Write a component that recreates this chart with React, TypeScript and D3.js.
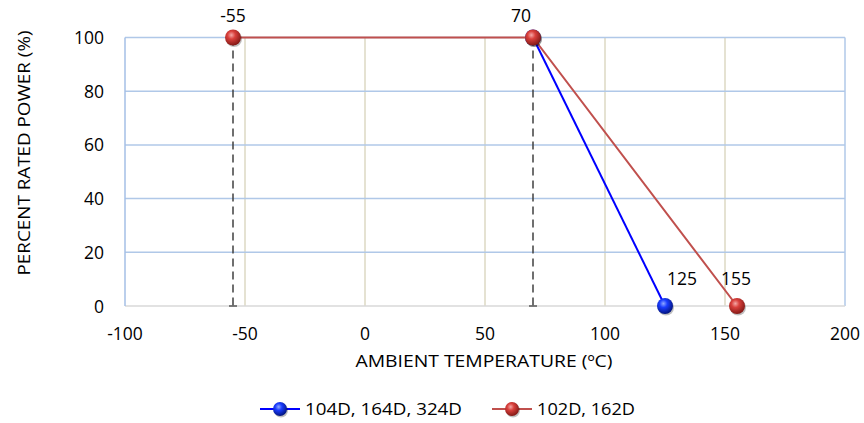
import React from 'react';
import * as d3 from 'd3';

const xTicks = [-100, -50, 0, 50, 100, 150, 200];
const yTicks = [0, 20, 40, 60, 80, 100];

const seriesA = { name: '104D, 164D, 324D', temps: [70, 125], power: [100, 0] };
const seriesB = { name: '102D, 162D', temps: [-55, 70, 155], power: [100, 100, 0] };
const dashedTemps = [-55, 70];
const pointLabels = [
  { t: -55, p: 100, text: '-55', dx: 0, dy: -16 },
  { t: 70, p: 100, text: '70', dx: -12, dy: -16 },
  { t: 125, p: 0, text: '125', dx: 17, dy: -21 },
  { t: 155, p: 0, text: '155', dx: -1, dy: -21 },
];

const font = "'Open Sans', sans-serif";
const fs = 17.5;

const App: React.FC = () => {
  const W = 864, H = 423;
  const x = d3.scaleLinear().domain([-100, 200]).range([125, 845]);
  const y = d3.scaleLinear().domain([0, 100]).range([306, 37.5]);
  const line = d3.line<[number, number]>().x(d => x(d[0])).y(d => y(d[1]));
  const pts = (s: { temps: number[]; power: number[] }) => s.temps.map((t, i) => [t, s.power[i]] as [number, number]);

  const Ball = ({ cx, cy, r, id }: { cx: number; cy: number; r: number; id: string }) => (
    <g>
      <circle cx={cx + 1} cy={cy + 1.5} r={r} fill="rgba(0,0,0,0.25)" />
      <circle cx={cx} cy={cy} r={r} fill={`url(#${id})`} />
    </g>
  );

  return (
    <svg width={W} height={H} style={{ position: 'absolute', left: 0, top: 0 }}>
      <defs>
        <radialGradient id="gRed" cx="0.4" cy="0.35" r="0.7">
          <stop offset="0" stopColor="#f4a8a6" />
          <stop offset="0.35" stopColor="#d9403c" />
          <stop offset="1" stopColor="#7a1512" />
        </radialGradient>
        <radialGradient id="gBlue" cx="0.4" cy="0.35" r="0.7">
          <stop offset="0" stopColor="#8fa8ff" />
          <stop offset="0.35" stopColor="#1a3cff" />
          <stop offset="1" stopColor="#001070" />
        </radialGradient>
      </defs>
      <rect width={W} height={H} fill="#fff" />

      {/* grid */}
      {xTicks.filter(t => t > -100 && t < 200).map(t => (
        <line key={'vx' + t} x1={x(t)} x2={x(t)} y1={y(100)} y2={y(0)} stroke="#ddd9c3" strokeWidth={1.5} />
      ))}
      {yTicks.filter(t => t > 0).map(t => (
        <line key={'hy' + t} x1={x(-100)} x2={x(200)} y1={y(t)} y2={y(t)} stroke="#b0c8e8" strokeWidth={1.5} />
      ))}
      <line x1={x(200)} x2={x(200)} y1={y(100)} y2={y(0)} stroke="#b0c8e8" strokeWidth={1.5} />
      <line x1={x(-100)} x2={x(200)} y1={y(0)} y2={y(0)} stroke="#d9d9d9" strokeWidth={1.5} />
      <line x1={x(-100)} x2={x(-100)} y1={y(100)} y2={y(0)} stroke="#a4bfe6" strokeWidth={1.5} />

      {/* tick labels */}
      {yTicks.map(t => (
        <text key={'yl' + t} x={104} y={y(t) + 6.5} textAnchor="end" fontFamily={font} fontSize={fs} fill="#000">{t}</text>
      ))}
      {xTicks.map(t => (
        <text key={'xl' + t} x={x(t)} y={340} textAnchor="middle" fontFamily={font} fontSize={fs} fill="#000">{t}</text>
      ))}

      {/* dashed error bars */}
      {dashedTemps.map(t => (
        <g key={'d' + t}>
          <line x1={x(t)} x2={x(t)} y1={y(100)} y2={y(0)} stroke="#404040" strokeWidth={1.5} strokeDasharray="8,5" />
          <line x1={x(t) - 4} x2={x(t) + 4} y1={y(0)} y2={y(0)} stroke="#595959" strokeWidth={1.5} />
        </g>
      ))}

      {/* series */}
      <path d={line(pts(seriesB)) || ''} fill="none" stroke="#c0504d" strokeWidth={2} />
      <path d={line(pts(seriesA)) || ''} fill="none" stroke="#0000ff" strokeWidth={2} />
      {pts(seriesA).map(([t, p]) => <Ball key={'a' + t} cx={x(t)} cy={y(p)} r={8} id="gBlue" />)}
      {pts(seriesB).map(([t, p]) => <Ball key={'b' + t} cx={x(t)} cy={y(p)} r={8} id="gRed" />)}

      {pointLabels.map(l => (
        <text key={'pl' + l.text} x={x(l.t) + l.dx} y={y(l.p) + l.dy} textAnchor="middle" fontFamily={font} fontSize={fs} fill="#000">{l.text}</text>
      ))}

      {/* axis titles */}
      <text x={484} y={367} textAnchor="middle" fontFamily={font} fontSize={16.5} fill="#000" textLength={257} lengthAdjust="spacingAndGlyphs">AMBIENT TEMPERATURE (ºC)</text>
      <text transform="translate(30,153) rotate(-90)" textAnchor="middle" fontFamily={font} fontSize={16.5} fill="#000" textLength={245} lengthAdjust="spacingAndGlyphs">PERCENT RATED POWER (%)</text>

      {/* legend */}
      <line x1={260} x2={300} y1={409} y2={409} stroke="#0000ff" strokeWidth={2} />
      <Ball cx={280} cy={409} r={7} id="gBlue" />
      <text x={305} y={415} fontFamily={font} fontSize={16.5} fill="#000" textLength={157} lengthAdjust="spacingAndGlyphs">{seriesA.name}</text>
      <line x1={492} x2={532} y1={409} y2={409} stroke="#c0504d" strokeWidth={2} />
      <Ball cx={512} cy={409} r={7} id="gRed" />
      <text x={537} y={415} fontFamily={font} fontSize={16.5} fill="#000" textLength={98} lengthAdjust="spacingAndGlyphs">{seriesB.name}</text>
    </svg>
  );
};

export default App;
